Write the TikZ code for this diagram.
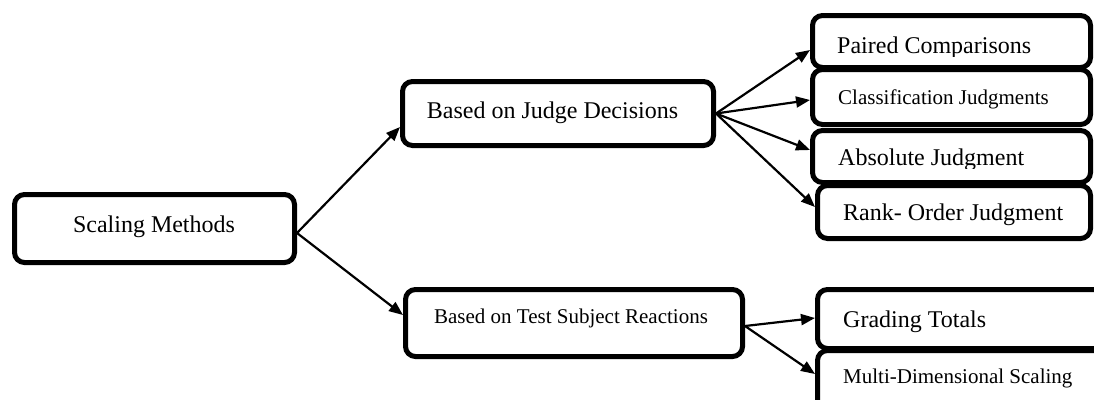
\documentclass[tikz,border=0pt]{standalone}
\usepackage{fontspec}
\setmainfont{Liberation Serif}
\usetikzlibrary{arrows.meta}
\begin{document}
\begin{tikzpicture}[x=1pt,y=-1pt,
  boxnode/.style={draw, line width=5pt, rounded corners=10pt, fill=white, inner sep=0pt},
  arr/.style={line width=2.2pt, -{Triangle[length=14pt,width=11pt]}},
  big/.style={inner sep=0pt, font=\fontsize{24pt}{28pt}\selectfont},
  small/.style={inner sep=0pt, font=\fontsize{21pt}{25pt}\selectfont}]
\useasboundingbox (0,0) rectangle (1094,399);
\clip (0,0) rectangle (1094,399);
% boxes
\node[boxnode, minimum width=280pt, minimum height=68pt] (sm) at (154.5,228.5) {};
\node[boxnode, minimum width=311pt, minimum height=64pt] (jd) at (558,113.5) {};
\node[boxnode, minimum width=337pt, minimum height=67pt] (ts) at (574,323) {};
\node[boxnode, minimum width=278pt, minimum height=52pt] (pc) at (951.5,41.5) {};
\node[boxnode, minimum width=278pt, minimum height=55pt] (cj) at (951.5,97) {};
\node[boxnode, minimum width=278pt, minimum height=52pt] (aj) at (951.5,156.5) {};
\node[boxnode, minimum width=273pt, minimum height=53pt] (ro) at (954,212) {};
\node[boxnode, minimum width=290pt, minimum height=59pt] (gt) at (962.5,319) {};
\node[boxnode, minimum width=290pt, minimum height=59pt] (md) at (962.5,380) {};
% texts
\node[big, anchor=base] (smt) at (154,232) {Scaling Methods};
\node[big, anchor=base] (jdt) at (552.5,118) {Based on Judge Decisions};
\node[small, anchor=base] (tst) at (571,323) {Based on Test Subject Reactions};
\begin{scope}
\clip (810,13) rectangle (1093,56);
\node[big, anchor=base west] (pct) at (837,53) {Paired Comparisons};
\end{scope}
\node[small, anchor=base west] (cjt) at (838,104) {Classification Judgments};
\begin{scope}
\clip (810,128) rectangle (1093,168);
\node[big, anchor=base west] (ajt) at (838,165) {Absolute Judgment};
\end{scope}
\begin{scope}
\clip (815,183) rectangle (1093,226);
\node[big, anchor=base west] (rot) at (843,220) {Rank- Order Judgment};
\end{scope}
\node[big, anchor=base west] (gtt) at (843,327) {Grading Totals};
\node[small, anchor=base west] (mdt) at (843,383) {Multi-Dimensional Scaling};
% arrows
\draw[arr] ([yshift=-4.5pt]sm.east) -- ([yshift=-13.5pt]jd.west);
\draw[arr] ([yshift=-4.5pt]sm.east) -- ([yshift=8pt]ts.west);
\draw[arr] (jd.east) -- ([yshift=-8.5pt]pc.west);
\draw[arr] (jd.east) -- ([yshift=-3pt]cj.west);
\draw[arr] (jd.east) -- ([yshift=6.5pt]aj.west);
\draw[arr] (jd.east) -- ([yshift=5pt]ro.west);
\draw[arr] ([yshift=-3pt]ts.east) -- ([yshift=1pt]gt.west);
\draw[arr] ([yshift=-3pt]ts.east) -- ([yshift=6pt]md.west);
\end{tikzpicture}
\end{document}
